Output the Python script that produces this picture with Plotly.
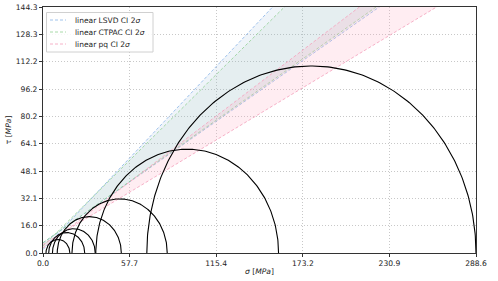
import numpy as np
import plotly.graph_objects as go

# Mohr circles: minor / major principal stresses [MPa]
sigma3 = [2.0, 3.8, 6.3, 9.5, 19.3, 35.2, 69.2]
sigma1 = [17.9, 27.8, 34.8, 52.2, 82.8, 157.0, 288.6]

# Confidence bands (intercept c [MPa], slope tan(phi)) for upper / lower lines
bands = ["LSVD", "CTPAC", "pq"]
c_upper = [2.0, 4.0, 3.0]
m_upper = [0.930, 0.872, 0.670]
c_lower = [6.0, 6.0, 5.0]
m_lower = [0.617, 0.623, 0.531]

x_ticks = [0.0, 57.7, 115.4, 173.2, 230.9, 288.6]
y_ticks = [0.0, 16.0, 32.1, 48.1, 64.1, 80.2, 96.2, 112.2, 128.3, 144.3]
x_max, y_max = 288.6, 144.3

line_cols = ["rgba(130,175,230,0.75)", "rgba(140,205,140,0.75)", "rgba(245,165,190,0.85)"]
fill_cols = ["rgba(140,180,215,0.14)", "rgba(160,200,180,0.12)", "rgba(255,175,195,0.22)"]

W, H = 498, 281
ML, MR, MT, MB = 43, 22, 7, 28
PW, PH = W - ML - MR, H - MT - MB


def px(x):
    return (x - ML) / PW


def py(y):
    return (H - MB - y) / PH


fig = go.Figure()
xs = np.array([0.0, x_max])
for i, b in enumerate(bands):
    fig.add_trace(go.Scatter(
        x=xs, y=c_upper[i] + m_upper[i] * xs, mode="lines",
        line=dict(color=line_cols[i], width=1, dash="3px,2px"),
        showlegend=False, hoverinfo="skip"))
    fig.add_trace(go.Scatter(
        x=xs, y=c_lower[i] + m_lower[i] * xs, mode="lines",
        line=dict(color=line_cols[i], width=1, dash="3px,2px"),
        fill="tonexty", fillcolor=fill_cols[i], showlegend=False, hoverinfo="skip"))

theta = np.linspace(0, np.pi, 240)
for s3, s1 in zip(sigma3, sigma1):
    c = (s1 + s3) / 2
    r = (s1 - s3) / 2
    fig.add_trace(go.Scatter(
        x=c + r * np.cos(theta), y=r * np.sin(theta), mode="lines",
        line=dict(color="black", width=1.1), showlegend=False, hoverinfo="skip"))

# legend box (drawn manually for compact matplotlib-like spacing)
shapes = [dict(type="rect", xref="paper", yref="paper",
               x0=px(46.5), x1=px(153), y0=py(52), y1=py(12.5),
               line=dict(color="#d0d0d0", width=1),
               fillcolor="rgba(255,255,255,0.85)", layer="above")]
annotations = []
for i, b in enumerate(bands):
    yy = 20 + 12 * i
    shapes.append(dict(type="line", xref="paper", yref="paper",
                       x0=px(50), x1=px(66), y0=py(yy), y1=py(yy),
                       line=dict(color=line_cols[i], width=1, dash="3px,2px"),
                       layer="above"))
    annotations.append(dict(xref="paper", yref="paper", x=px(72.5), y=py(yy),
                            xanchor="left", yanchor="middle", showarrow=False,
                            text=f"linear {b} CI 2<i>σ</i>",
                            font=dict(family="DejaVu Sans", size=7.5, color="#222222")))

axis_common = dict(
    showline=True, linecolor="#333333", linewidth=1, mirror=True,
    ticks="outside", ticklen=3, tickcolor="#333333",
    showgrid=True, gridcolor="#c8c8c8", griddash="1px,2px", gridwidth=1,
    zeroline=False, automargin=False,
    tickfont=dict(family="DejaVu Sans", size=7.6, color="#222222"),
)

fig.update_layout(
    width=W, height=H,
    margin=dict(l=ML, r=MR, t=MT, b=MB),
    plot_bgcolor="white", paper_bgcolor="white",
    font=dict(family="DejaVu Sans", size=8, color="#222222"),
    showlegend=False,
    shapes=shapes, annotations=annotations,
    xaxis=dict(range=[0, x_max], tickvals=x_ticks,
               ticktext=[f"{v:.1f}" for v in x_ticks],
               title=dict(text="<i>σ</i> [<i>MPa</i>]", standoff=1,
                          font=dict(family="DejaVu Sans", size=7.6)),
               **axis_common),
    yaxis=dict(range=[0, y_max], tickvals=y_ticks,
               ticktext=[f"{v:.1f}" for v in y_ticks],
               title=dict(text="τ [<i>MPa</i>]", standoff=3,
                          font=dict(family="DejaVu Sans", size=7.6)),
               **axis_common),
)

fig.write_html("out.html", config={"displayModeBar": False},
               post_script="document.body.style.margin='0px';document.body.style.padding='0px';")
